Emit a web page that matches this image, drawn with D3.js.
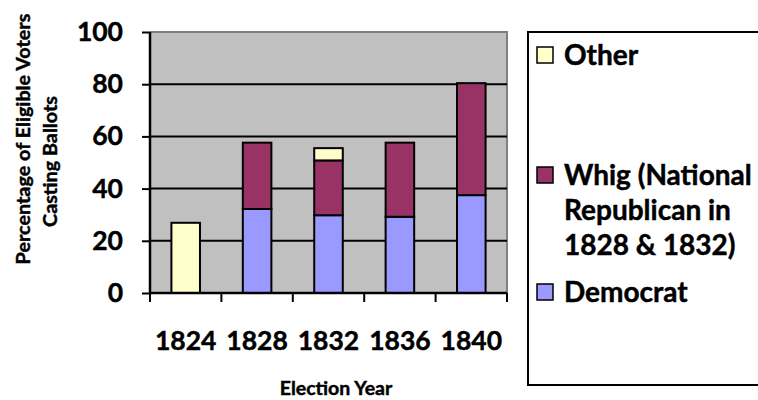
<!DOCTYPE html>
<html>
<head>
<meta charset="utf-8">
<script src="https://cdn.jsdelivr.net/npm/d3@7"></script>
<style>
  html, body { margin: 0; padding: 0; background: #fff; }
  svg { display: block; font-family: Lato, "Open Sans", sans-serif; font-weight: bold; }
  svg text { stroke: #000; stroke-width: 0.45px; fill: #000; }
</style>
</head>
<body>
<svg id="chart" width="758" height="400"></svg>
<script>
// Turnout by election year, split by party (percent of eligible voters)
const years = ["1824", "1828", "1832", "1836", "1840"];
const democrat = [0, 32.2, 29.8, 29.2, 37.5];
const whig = [0, 25.4, 21.0, 28.4, 42.9];
const other = [26.9, 0, 4.7, 0, 0];
const yTicks = [0, 20, 40, 60, 80, 100];

const seriesKeys = ["Democrat", "Whig", "Other"];
const seriesColors = { Democrat: "#9999FF", Whig: "#993366", Other: "#FFFFCC" };
const legendLabels = {
  Other: ["Other"],
  Whig: ["Whig (National", "Republican in", "1828 & 1832)"],
  Democrat: ["Democrat"]
};

const rows = years.map((yr, i) => ({ year: yr, Democrat: democrat[i], Whig: whig[i], Other: other[i] }));

const svg = d3.select("#chart");
const plot = { left: 150, right: 507, top: 32, bottom: 293 };

const x = d3.scaleBand().domain(years).range([plot.left, plot.right]).paddingInner(0.6).paddingOuter(0.3);
const y = d3.scaleLinear().domain([0, 100]).range([plot.bottom, plot.top]);

// plot background
svg.append("rect")
  .attr("x", plot.left).attr("y", plot.top)
  .attr("width", plot.right - plot.left).attr("height", plot.bottom - plot.top)
  .attr("fill", "#C0C0C0");

// gray frame on top and right
svg.append("path")
  .attr("d", `M${plot.left},${plot.top}H${plot.right}V${plot.bottom}`)
  .attr("fill", "none").attr("stroke", "#808080").attr("stroke-width", 2);

// horizontal gridlines
svg.append("g").selectAll("line")
  .data(yTicks.filter(t => t > 0 && t < 100))
  .join("line")
  .attr("x1", plot.left).attr("x2", plot.right)
  .attr("y1", d => y(d)).attr("y2", d => y(d))
  .attr("stroke", "#000").attr("stroke-width", 2);

// stacked bars
const stacked = d3.stack().keys(seriesKeys)(rows);
svg.append("g").selectAll("g")
  .data(stacked)
  .join("g")
  .attr("fill", d => seriesColors[d.key])
  .selectAll("rect")
  .data(d => d.filter(s => s[1] - s[0] > 0))
  .join("rect")
  .attr("x", d => x(d.data.year))
  .attr("width", x.bandwidth())
  .attr("y", d => y(d[1]))
  .attr("height", d => y(d[0]) - y(d[1]))
  .attr("stroke", "#000").attr("stroke-width", 2);

// y axis
const yAxis = d3.axisLeft(y).tickValues(yTicks).tickSize(8).tickPadding(19);
const gy = svg.append("g").attr("transform", `translate(${plot.left},0)`).call(yAxis);
gy.select(".domain").attr("stroke", "#000").attr("stroke-width", 2.5).attr("d", `M0,${plot.top}V${plot.bottom}`);
gy.selectAll(".tick line").attr("stroke", "#000").attr("stroke-width", 2);
gy.selectAll(".tick text")
  .attr("font-family", "Lato, sans-serif").attr("font-weight", "bold")
  .attr("font-size", 26.5);

// x axis: ticks at category boundaries, labels at centres
const gx = svg.append("g").attr("transform", `translate(0,${plot.bottom})`);
gx.append("line").attr("x1", plot.left).attr("x2", plot.right)
  .attr("stroke", "#000").attr("stroke-width", 2.5);
const boundaries = years.map(yr => x(yr) - x.step() * x.paddingInner() / 2).concat([plot.right]);
gx.selectAll("line.tick")
  .data(boundaries)
  .join("line").attr("class", "tick")
  .attr("x1", d => d).attr("x2", d => d)
  .attr("y1", 0).attr("y2", 9)
  .attr("stroke", "#000").attr("stroke-width", 2);
gx.selectAll("text")
  .data(years)
  .join("text")
  .attr("x", d => x(d) + x.bandwidth() / 2)
  .attr("y", 57)
  .attr("text-anchor", "middle")
  .attr("font-size", 26.5)
  .text(d => d);

// axis titles
svg.append("text")
  .attr("x", 336).attr("y", 395)
  .attr("text-anchor", "middle")
  .attr("font-size", 19.5)
  .text("Election Year");

const yTitle = [["Percentage of Eligible Voters", 30, 139], ["Casting Ballots", 57, 161.5]];
svg.append("g").selectAll("text")
  .data(yTitle)
  .join("text")
  .attr("transform", d => `translate(${d[1]},${d[2]}) rotate(-90)`)
  .attr("text-anchor", "middle")
  .attr("font-size", 19.8)
  .text(d => d[0]);

// legend
const legend = svg.append("g");
legend.append("rect")
  .attr("x", 528).attr("y", 32)
  .attr("width", 260).attr("height", 353)
  .attr("fill", "#fff").attr("stroke", "#000").attr("stroke-width", 2);

const legendItems = [
  { key: "Other", swatchY: 47, baseline: 65 },
  { key: "Whig", swatchY: 167, baseline: 185 },
  { key: "Democrat", swatchY: 284, baseline: 302 }
];
const lineGap = 35;
const li = legend.selectAll("g.item").data(legendItems).join("g").attr("class", "item");
li.append("rect")
  .attr("x", 537).attr("y", d => d.swatchY)
  .attr("width", 16).attr("height", 16)
  .attr("fill", d => seriesColors[d.key])
  .attr("stroke", "#000").attr("stroke-width", 1.5);
li.append("text")
  .attr("y", d => d.baseline)
  .attr("font-size", 28)
  .selectAll("tspan")
  .data(d => legendLabels[d.key].map((t, i) => ({ t, i, base: d.baseline })))
  .join("tspan")
  .attr("x", 564)
  .attr("y", d => d.base + d.i * lineGap)
  .text(d => d.t);
</script>
</body>
</html>
